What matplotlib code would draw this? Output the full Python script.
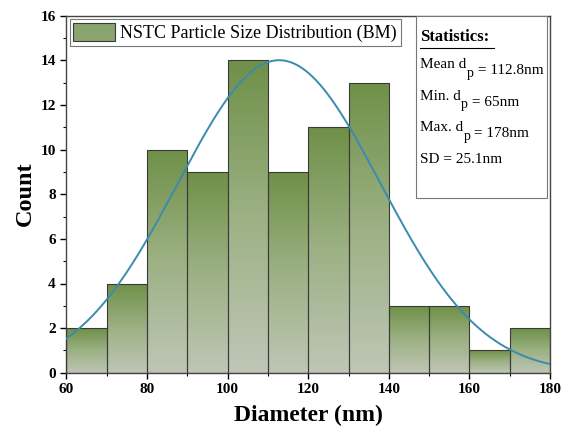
import numpy as np
import matplotlib.pyplot as plt
from matplotlib.patches import Rectangle, Patch
from matplotlib.colors import LinearSegmentedColormap

plt.rcParams['font.family'] = ['Liberation Serif', 'DejaVu Serif']

# histogram data
bin_edges = [60, 70, 80, 90, 100, 110, 120, 130, 140, 150, 160, 170, 180]
counts = [2, 4, 10, 9, 14, 9, 11, 13, 3, 3, 1, 2]

# fitted normal curve parameters
fit_mean = 112.8
fit_sd = 25.1
fit_peak = 14.0

# statistics box lines: (before subscript, subscript, after)
stats_lines = [('Mean d', 'p', ' = 112.8nm'),
               ('Min. d', 'p', ' = 65nm'),
               ('Max. d', 'p', ' = 178nm'),
               ('SD = 25.1nm', '', '')]

cmap = LinearSegmentedColormap.from_list('g', ['#bfc6b6', '#9cb184', '#6f9048'])

fig = plt.figure(figsize=(5.66, 4.32), dpi=100)
ax = fig.add_axes([0.117, 0.137, 0.855, 0.827])

ax.set_xlim(60, 180)
ax.set_ylim(0, 16)

grad = np.linspace(0, 1, 256).reshape(-1, 1)
for left, right, c in zip(bin_edges[:-1], bin_edges[1:], counts):
    rect = Rectangle((left, 0), right - left, c, facecolor='none',
                     edgecolor='#3a3a3a', linewidth=0.8, zorder=3)
    ax.add_patch(rect)
    im = ax.imshow(grad, extent=[left, right, 0, c], origin='lower',
                   cmap=cmap, aspect='auto', zorder=2)
    im.set_clip_path(rect)

xs = np.linspace(60, 180, 400)
ys = fit_peak * np.exp(-(xs - fit_mean) ** 2 / (2 * fit_sd ** 2))
ax.plot(xs, ys, color='#3a8bb0', linewidth=1.4, zorder=4)

ax.set_xticks(range(60, 181, 20))
ax.set_xticks(range(60, 181, 10), minor=True)
ax.set_yticks(range(0, 17, 2))
ax.set_yticks(range(0, 17, 1), minor=True)
ax.tick_params(axis='both', which='major', direction='out', length=4,
               labelsize=11, width=1)
ax.tick_params(axis='both', which='minor', direction='out', length=2.5, width=0.8)
for lab in ax.get_xticklabels() + ax.get_yticklabels():
    lab.set_fontweight('bold')
for s in ax.spines.values():
    s.set_color('#444444')
    s.set_linewidth(1)

ax.set_xlabel('Diameter (nm)', fontsize=17, fontweight='bold', labelpad=6)
ax.set_ylabel('Count', fontsize=17.5, fontweight='bold', labelpad=3)

handle = Patch(facecolor='#8aa46e', edgecolor='#3a3a3a', linewidth=0.8)
leg = ax.legend([handle], ['NSTC Particle Size Distribution (BM)'],
                loc='upper left', bbox_to_anchor=(0.0, 1.0), fontsize=13,
                frameon=True, fancybox=False, edgecolor='#555555',
                handlelength=2.3, handleheight=1.15, borderpad=0.2,
                borderaxespad=0.2, handletextpad=0.3)
leg.get_frame().set_linewidth(0.8)

# statistics box
box = Rectangle((0.722, 0.49), 0.272, 0.508, transform=ax.transAxes,
                facecolor='white', edgecolor='#777777', linewidth=0.8, zorder=5)
ax.add_patch(box)
ax.text(0.731, 0.94, 'Statistics:', transform=ax.transAxes, fontsize=12,
        fontweight='bold', va='center', zorder=6)
ax.plot([0.731, 0.883], [0.908, 0.908], transform=ax.transAxes, color='black',
        linewidth=0.8, zorder=6)
for i, (pre, sub, post) in enumerate(stats_lines):
    y = 0.852 - i * 0.088
    t = ax.text(0.731, y, pre, transform=ax.transAxes, fontsize=11,
                va='baseline', zorder=6)
    if sub:
        s = ax.annotate(sub, xy=(1, 0), xycoords=t, xytext=(0.3, -4),
                        textcoords='offset points', fontsize=10,
                        va='baseline', zorder=6)
        ax.annotate(post, xy=(1, 0), xycoords=s, xytext=(0, 4),
                    textcoords='offset points', fontsize=11,
                    va='baseline', zorder=6)

fig.savefig('out.png', dpi=100)
